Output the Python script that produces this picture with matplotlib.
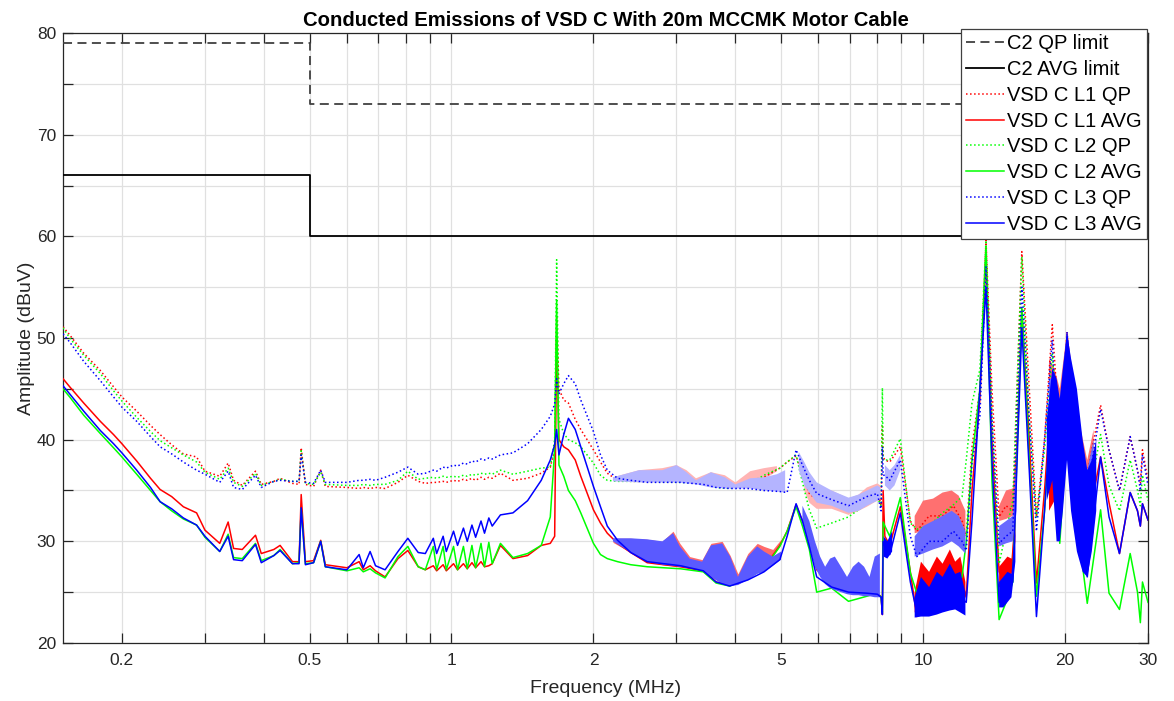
import numpy as np
import matplotlib
matplotlib.use("Agg")
import matplotlib.pyplot as plt
from matplotlib.ticker import FixedLocator, FixedFormatter, NullFormatter

nan = np.nan

# ---------------- data ----------------
LIMIT_F = [0.15, 0.5, 0.5, 30]
QP_LIMIT = [79, 79, 73, 73]
AVG_LIMIT = [66, 66, 60, 60]

FREQ = [
    0.15, 0.155, 0.166, 0.18, 0.192, 0.2, 0.215, 0.23, 0.241, 0.255,
    0.27, 0.288, 0.3, 0.3225, 0.336, 0.345, 0.36, 0.384, 0.395, 0.42,
    0.433, 0.46, 0.475, 0.48, 0.49, 0.51, 0.528, 0.54, 0.6, 0.637,
    0.65, 0.672, 0.69, 0.723, 0.77, 0.808, 0.85, 0.88, 0.915, 0.93,
    0.96, 0.975, 1.01, 1.03, 1.06, 1.08, 1.105, 1.125, 1.155, 1.175,
    1.2, 1.22, 1.27, 1.35, 1.45, 1.55, 1.62, 1.655, 1.671, 1.69,
    1.73, 1.77, 1.83, 1.88, 2.0, 2.07, 2.14, 2.25, 2.4, 2.6,
    3.06, 3.42, 3.64, 3.89, 4.25, 4.6, 4.97, 5.15, 5.38, 5.55,
    5.74, 5.95, 6.4, 6.95, 7.6, 8.0, 8.15, 8.2, 8.23, 8.3,
    8.5, 8.95, 9.4, 9.7, 10.3, 11.0, 11.6, 12.1, 12.35, 12.7,
    13.2, 13.6, 14.0, 14.5, 15.0, 15.5, 16.2, 16.8, 17.4, 18.1,
    18.8, 19.5, 20.2, 21.2, 22.3, 23.8, 24.8, 26.1, 27.5, 28.5,
    28.9, 29.2, 30,
]

L1_QP = [
    51.1, 50.3, 48.5, 46.8, 45.2, 44.2, 42.8, 41.4, 40.5, 39.5,
    38.6, 38.3, 36.9, 36.4, 37.7, 36.0, 35.5, 36.9, 35.6, 35.9,
    36.2, 35.7, 35.6, 39.2, 35.6, 35.4, 37.0, 35.4, 35.3, 35.2,
    35.3, 35.2, 35.3, 35.2, 35.8, 36.5, 35.9, 35.7, 35.8, 35.8,
    35.9, 35.8, 36.0, 35.9, 36.1, 36.0, 36.2, 36.0, 36.3, 36.1,
    36.3, 36.2, 36.7, 36.0, 36.2, 36.7, 37.3, 39.0, 52.0, 45.0,
    43.9, 43.6, 42.0, 41.0, 39.0, 37.8, 36.7, 36.0, 35.9, 35.9,
    35.9, 35.9, 35.5, 35.3, 35.6, 36.3, 37.2, 37.8, 38.4, 36.5,
    34.7, 34.1, 33.9, 33.1, 34.0, 35.0, 33.5, 41.3, 38.3, 38.0,
    37.8, 39.3, 32.0, 31.0, 32.5, 32.5, 33.5, 32.0, 30.5, 39.3,
    44.9, 59.6, 45.0, 32.4, 33.5, 33.0, 58.5, 45.0, 32.4, 40.0,
    51.3, 40.0, 50.6, 40.3, 36.7, 43.4, 39.0, 35.0, 40.3, 37.0,
    35.7, 39.0, 36.0,
]

L2_QP = [
    51.0, 50.0, 48.3, 46.5, 44.8, 43.8, 42.2, 40.8, 39.9, 39.2,
    38.5, 37.8, 36.8, 36.1, 37.2, 35.8, 35.4, 36.7, 35.5, 35.9,
    36.1, 35.9, 35.9, 38.9, 35.7, 35.6, 36.8, 35.6, 35.5, 35.5,
    35.6, 35.5, 35.6, 35.6, 36.0, 36.9, 36.1, 36.2, 36.3, 36.2,
    36.4, 36.3, 36.4, 36.3, 36.5, 36.4, 36.6, 36.5, 36.7, 36.6,
    36.7, 36.6, 37.0, 36.6, 36.9, 37.2, 37.3, 40.0, 57.7, 42.0,
    40.6, 40.0, 39.7, 39.3, 37.7, 36.5, 36.0, 35.9, 35.9, 35.9,
    35.8, 35.7, 35.3, 35.2, 35.6, 36.5, 37.2, 37.8, 38.5, 35.8,
    33.1, 31.3, 31.8, 32.4, 33.7, 34.3, 33.5, 45.1, 38.0, 38.0,
    38.0, 40.1, 31.8, 31.2, 31.5, 32.8, 33.6, 34.4, 38.0, 43.6,
    46.9, 59.6, 42.0, 27.8, 31.0, 34.0, 58.0, 42.0, 32.4, 39.0,
    48.5, 38.0, 46.4, 38.0, 33.5, 40.5, 35.5, 33.0, 38.0, 35.0,
    33.5, 36.5, 34.0,
]

L3_QP = [
    50.4, 49.6, 47.7, 45.8, 44.2, 43.2, 41.8, 40.3, 39.3, 38.6,
    37.8, 37.0, 36.6, 35.8, 36.9, 35.3, 35.1, 36.5, 35.3, 35.9,
    36.0, 35.9, 35.9, 38.5, 35.8, 35.7, 37.0, 35.8, 35.8, 36.0,
    36.0, 36.1, 36.0, 36.3, 36.8, 37.3, 36.6, 36.7, 37.0, 36.9,
    37.3, 37.2, 37.5, 37.4, 37.7, 37.6, 37.9, 37.8, 38.1, 38.0,
    38.2, 38.1, 38.5, 38.7, 39.6, 41.0, 42.3, 43.5, 46.0, 44.5,
    45.5, 46.3, 45.5, 43.9, 40.8, 38.5, 37.0, 36.2, 36.0, 35.8,
    35.8, 35.6, 35.3, 35.2, 35.2, 35.0, 34.9, 34.8, 39.0, 37.5,
    36.0, 34.7, 34.1, 33.5, 34.4, 34.7, 33.0, 39.3, 36.5, 36.5,
    36.0, 38.0, 30.5, 28.5, 30.0, 30.0, 31.0, 30.0, 29.1, 37.7,
    42.3, 57.0, 42.0, 29.8, 30.5, 31.0, 55.0, 42.0, 31.0, 40.0,
    49.8, 33.1, 50.6, 40.0, 35.0, 43.0, 39.0, 35.0, 40.3, 37.0,
    35.0, 38.5, 35.5,
]

L1_AVG = [
    46.0, 45.2, 43.6, 41.8, 40.5, 39.6, 37.9, 36.2, 35.1, 34.4,
    33.4, 32.8, 31.1, 29.8, 31.9, 29.3, 29.2, 30.6, 28.8, 29.2,
    29.6, 28.0, 28.0, 34.6, 28.0, 28.1, 30.1, 27.7, 27.4, 28.0,
    27.2, 27.6, 27.1, 26.5, 28.3, 29.1, 27.5, 27.2, 27.6, 27.1,
    27.7, 27.1, 27.8, 27.2, 27.8, 27.3, 27.9, 27.4, 28.0, 27.5,
    27.6, 27.8, 29.6, 28.3, 28.6, 29.6, 29.8, 30.5, 50.0, 40.0,
    39.3, 39.0, 38.0, 36.4, 33.1, 31.8, 30.8, 29.8, 28.9, 27.9,
    27.5, 27.1, 26.0, 25.7, 26.4, 27.4, 29.6, 31.0, 33.6, 32.0,
    30.5, 27.2, 26.0, 25.1, 25.1, 25.0, 24.5, 22.8, 35.0, 30.5,
    29.6, 33.4, 27.0, 22.6, 25.0, 26.0, 26.5, 26.0, 24.5, 35.0,
    44.0, 58.0, 40.0, 27.0, 26.0, 27.5, 52.8, 40.0, 25.9, 35.0,
    45.7, 35.0, 50.0, 38.0, 31.5, 38.3, 33.8, 28.8, 34.8, 33.0,
    31.5, 33.7, 32.1,
]

L2_AVG = [
    45.0, 44.2, 42.4, 40.6, 39.2, 38.3, 36.6, 35.0, 33.9, 33.0,
    32.2, 31.6, 30.4, 29.0, 30.7, 28.4, 28.3, 29.8, 28.1, 28.6,
    29.2, 27.8, 27.9, 33.2, 27.8, 27.9, 30.0, 27.5, 27.1, 27.4,
    27.0, 27.3, 26.9, 26.4, 28.5, 29.5, 27.5, 27.2, 29.5, 27.2,
    29.5, 27.2, 29.5, 27.2, 29.5, 27.3, 29.6, 27.4, 29.8, 27.5,
    29.9, 27.8, 29.8, 28.4, 28.8, 29.6, 32.4, 39.0, 53.7, 37.5,
    36.4, 35.0, 34.0, 32.8, 29.8, 28.7, 28.3, 28.0, 27.7, 27.5,
    27.3, 27.0, 25.9, 25.6, 26.4, 27.3, 29.5, 31.0, 33.4, 31.5,
    29.2, 25.0, 25.4, 24.1, 24.6, 24.9, 24.5, 23.0, 31.9, 31.5,
    30.5, 34.3, 26.9, 24.9, 24.0, 25.0, 25.5, 26.5, 30.0, 38.0,
    45.0, 59.0, 36.0, 22.3, 24.0, 26.0, 53.0, 38.0, 24.6, 33.0,
    44.6, 29.8, 41.0, 32.0, 23.9, 33.1, 24.9, 23.3, 28.8, 25.0,
    22.0, 26.0, 24.0,
]

L3_AVG = [
    45.3, 44.5, 42.8, 40.9, 39.6, 38.7, 37.0, 35.3, 33.9, 33.2,
    32.3, 31.6, 30.5, 29.0, 30.5, 28.2, 28.1, 29.7, 27.9, 28.6,
    29.1, 27.8, 27.8, 33.3, 27.7, 27.9, 30.0, 27.5, 27.2, 28.7,
    27.4, 29.0, 27.6, 27.2, 29.0, 30.3, 28.9, 28.8, 30.3, 28.8,
    30.5, 29.0, 31.0, 29.6, 31.3, 30.0, 31.6, 30.4, 32.0, 30.8,
    32.3, 31.5, 32.6, 32.8, 34.0, 36.0, 38.0, 39.5, 41.0, 38.5,
    40.5, 42.1, 41.0, 39.3, 35.4, 33.4, 31.5, 30.1, 28.9, 28.0,
    27.6, 27.1, 26.0, 25.6, 26.2, 27.0, 28.2, 30.5, 33.7, 32.0,
    29.5, 26.5, 25.5, 25.0, 24.9, 24.8, 24.5, 22.8, 30.0, 29.5,
    28.7, 32.8, 26.0, 23.0, 24.0, 24.5, 25.0, 24.3, 24.0, 32.0,
    45.0, 55.0, 38.0, 24.0, 25.0, 26.0, 51.0, 37.0, 22.6, 33.0,
    45.0, 32.1, 50.1, 38.0, 26.5, 38.3, 32.4, 28.8, 34.8, 33.0,
    31.5, 33.7, 32.1,
]

# Envelopes of the dense harmonic ripple (NaN separates regions).
# "COMB": sparse teeth (lighter look); "DENSE": packed ripple (solid look).
L1_QP_COMB_F = [2.2, 2.5, 2.8, 3.0, 3.15, 3.3, 3.55, 3.8, 4.0, 4.3, 4.6, 4.9, nan,
                5.6, 5.74, 5.95, 6.4, 6.95, 7.3, 7.6, 8.0, 8.12]
L1_QP_COMB_LO = [36.0, 35.9, 35.9, 35.9, 35.9, 35.8, 35.5, 35.3, 35.3, 35.5, 36.1, 36.9, nan,
                 35.0, 33.8, 33.2, 33.2, 32.6, 33.0, 33.4, 34.0, 34.0]
L1_QP_COMB_HI = [36.3, 37.0, 37.2, 37.5, 37.0, 36.2, 36.8, 36.5, 35.8, 36.9, 37.2, 37.4, nan,
                 37.0, 35.8, 35.0, 35.0, 34.2, 34.6, 35.3, 35.7, 35.5]
L1_QP_DENSE_F = [9.6, 10.0, 10.5, 11.0, 11.5, 11.9, 12.3, nan,
                 14.5, 15.0, 15.5, 15.8, nan,
                 18.5, 19.0, 19.5, 20.2, 21.0, 21.6, 22.3, 23.0]
L1_QP_DENSE_LO = [30.8, 31.0, 31.5, 31.8, 32.0, 31.5, 30.5, nan,
                  32.0, 32.2, 32.5, 35.0, nan,
                  38, 40, 36, 44, 38, 36, 35, 38]
L1_QP_DENSE_HI = [32.5, 34.0, 34.2, 34.8, 35.0, 34.5, 33.0, nan,
                  33.5, 35.0, 35.2, 40.0, nan,
                  48, 47, 45, 50.6, 45, 41, 38, 41]

L3_QP_COMB_F = [2.2, 2.5, 2.8, 3.0, 3.15, 3.3, 3.55, 3.8, 4.0, 4.3, 4.6, 4.9, 5.1, nan,
                5.45, 5.6, 5.74, 5.95, 6.4, 6.95, 7.3, 7.6, 8.0, 8.12, nan,
                8.3, 8.5, 8.7, 8.95]
L3_QP_COMB_LO = [35.9, 35.8, 35.8, 35.8, 35.7, 35.6, 35.3, 35.2, 35.2, 35.2, 35.0, 34.9, 34.8, nan,
                 37.0, 35.5, 34.8, 33.8, 33.5, 32.8, 33.0, 33.5, 34.0, 34.2, nan,
                 35.5, 35.0, 35.5, 37.0]
L3_QP_COMB_HI = [36.3, 37.0, 37.0, 37.5, 36.8, 36.0, 36.8, 36.3, 35.6, 36.2, 36.3, 36.6, 37.0, nan,
                 38.8, 37.8, 36.8, 35.8, 35.0, 34.3, 34.6, 35.0, 35.5, 35.3, nan,
                 37.5, 37.0, 37.5, 38.5]
L3_QP_DENSE_F = [9.6, 10.0, 10.5, 11.0, 11.5, 11.9, 12.3, nan,
                 14.5, 15.0, 15.5, 15.8, nan,
                 18.5, 19.0, 19.5, 20.2, 21.0, 21.6, 22.3, 23.0]
L3_QP_DENSE_LO = [28.5, 28.8, 29.2, 29.5, 30.0, 29.5, 28.8, nan,
                  29.5, 29.8, 30.0, 33.0, nan,
                  36, 37, 33, 40, 34, 32, 33, 36]
L3_QP_DENSE_HI = [30.5, 31.5, 32.0, 32.5, 33.0, 32.5, 31.0, nan,
                  31.5, 32.0, 32.5, 38.0, nan,
                  46, 46, 44, 50.6, 44, 40, 37, 40]

L1_AVG_COMB_F = [2.2, 2.4, 2.6, 2.8, 2.95, 3.05, 3.2, 3.4, 3.55, 3.75, 3.9, 4.05, 4.25, 4.45, 4.6, 4.8, 5.0]
L1_AVG_COMB_LO = [29.9, 28.9, 28.0, 27.7, 27.6, 27.5, 27.4, 27.1, 26.5, 25.9, 25.7, 25.8, 26.4, 27.0, 27.4, 28.5, 29.8]
L1_AVG_COMB_HI = [30.3, 30.3, 30.2, 30.0, 31.0, 29.8, 28.5, 28.2, 29.8, 30.0, 28.6, 26.8, 28.8, 29.8, 29.5, 29.2, 30.2]
L1_AVG_DENSE_F = [9.6, 9.9, 10.3, 10.7, 11.0, 11.4, 11.7, 12.0, 12.3, nan,
                  14.5, 14.8, 15.1, 15.4, 15.7, nan,
                  18.5, 19.0, 19.5, 20.2, 21.0, 21.6, 22.3, 23.0]
L1_AVG_DENSE_LO = [23.0, 23.5, 24.0, 24.5, 25.0, 25.0, 25.5, 25.0, 24.5, nan,
                   25.5, 25.5, 26.0, 26.5, 30.0, nan,
                   33, 34, 30, 41, 31, 29, 27, 31]
L1_AVG_DENSE_HI = [25.0, 28.0, 27.0, 28.5, 27.8, 29.2, 28.0, 28.5, 26.0, nan,
                   27.5, 28.0, 28.5, 28.3, 33.0, nan,
                   44, 42, 40, 50, 42, 37, 33, 37]

L3_AVG_COMB_F = [2.2, 2.4, 2.6, 2.8, 2.95, 3.05, 3.2, 3.4, 3.55, 3.75, 3.9, 4.05, 4.25, 4.45, 4.6, 4.8, 5.0, nan,
                 5.55, 5.74, 5.9, 6.05, 6.2, 6.35, 6.5, 6.7, 6.9, 7.1, 7.3, 7.5, 7.7, 7.9, 8.1]
L3_AVG_COMB_LO = [30.0, 28.9, 28.0, 27.7, 27.6, 27.5, 27.4, 27.1, 26.5, 25.8, 25.6, 25.7, 26.2, 26.8, 27.0, 27.6, 28.2, nan,
                  32.0, 29.5, 27.5, 26.5, 25.8, 25.4, 25.2, 25.0, 24.8, 24.7, 24.7, 24.6, 24.6, 24.5, 24.5]
L3_AVG_COMB_HI = [30.3, 30.3, 30.2, 30.0, 30.8, 29.5, 28.3, 28.0, 29.6, 29.8, 28.5, 26.5, 28.5, 29.5, 29.0, 28.5, 29.0, nan,
                  33.5, 32.0, 30.0, 28.5, 27.5, 28.3, 28.5, 27.5, 26.5, 27.5, 28.0, 27.5, 26.5, 28.5, 28.8]
L3_AVG_DENSE_F = [8.25, 8.4, 8.6, nan,
                  9.6, 9.9, 10.3, 10.7, 11.0, 11.4, 11.7, 12.0, 12.3, nan,
                  14.5, 14.8, 15.1, 15.4, 15.7, nan,
                  18.3, 18.8, 19.2, 19.5, 19.8, 20.2, 20.6, 21.2, 21.8, 22.3, 22.8, 23.3]
L3_AVG_DENSE_LO = [28.5, 28.3, 29.0, nan,
                   22.5, 22.6, 22.6, 22.8, 23.0, 23.2, 23.3, 23.0, 22.7, nan,
                   23.5, 23.5, 24.0, 24.5, 28.0, nan,
                   34, 36, 30, 30, 33, 38, 33, 29, 27, 26.5, 29, 33]
L3_AVG_DENSE_HI = [30.5, 30.0, 31.0, nan,
                   24.5, 26.5, 25.5, 27.0, 26.5, 27.8, 26.8, 27.0, 25.0, nan,
                   26.0, 26.5, 27.0, 26.8, 31.0, nan,
                   42, 47, 46, 44, 47, 50.5, 48, 45, 40, 37, 38, 40]

X_MAJOR = [0.2, 0.5, 1, 2, 5, 10, 20, 30]
X_LABELS = ['0.2', '0.5', '1', '2', '5', '10', '20', '30']
X_MINOR = [0.3, 0.4, 0.6, 0.7, 0.8, 0.9, 3, 4, 6, 7, 8, 9]
Y_MAJOR = [20, 30, 40, 50, 60, 70, 80]
Y_MINOR = [25, 35, 45, 55, 65, 75]

TITLE = 'Conducted Emissions of VSD C With 20m MCCMK Motor Cable'

# ---------------- plot ----------------
plt.rcParams['font.family'] = ['Liberation Sans', 'DejaVu Sans']
AXC = '#262626'

W, H = 1174, 701
fig = plt.figure(figsize=(W / 100, H / 100), dpi=100)
L, R, T, B = 63, 1148, 33, 643
ax = fig.add_axes([L / W, 1 - B / H, (R - L) / W, (B - T) / H])
ax.set_xscale('log')

RED, GREEN, BLUE = '#ff0000', '#00ff00', '#0000ff'

ax.plot(LIMIT_F, QP_LIMIT, color='#404040', ls=(0, (5, 3)), lw=1.3, label='C2 QP limit', zorder=3)
ax.plot(LIMIT_F, AVG_LIMIT, color='black', lw=1.3, label='C2 AVG limit', zorder=3)

# (values, colour, style, label, [(band arrays, fill colour), ...])
series = [
    (L1_QP, RED, ':', 'VSD C L1 QP',
     [((L1_QP_COMB_F, L1_QP_COMB_LO, L1_QP_COMB_HI), '#ffb4b4'),
      ((L1_QP_DENSE_F, L1_QP_DENSE_LO, L1_QP_DENSE_HI), '#ff7070')]),
    (L1_AVG, RED, '-', 'VSD C L1 AVG',
     [((L1_AVG_COMB_F, L1_AVG_COMB_LO, L1_AVG_COMB_HI), '#ff6a6a'),
      ((L1_AVG_DENSE_F, L1_AVG_DENSE_LO, L1_AVG_DENSE_HI), '#ff0000')]),
    (L2_QP, GREEN, ':', 'VSD C L2 QP', []),
    (L2_AVG, GREEN, '-', 'VSD C L2 AVG', []),
    (L3_QP, BLUE, ':', 'VSD C L3 QP',
     [((L3_QP_COMB_F, L3_QP_COMB_LO, L3_QP_COMB_HI), '#b4b4ff'),
      ((L3_QP_DENSE_F, L3_QP_DENSE_LO, L3_QP_DENSE_HI), '#6a6aff')]),
    (L3_AVG, BLUE, '-', 'VSD C L3 AVG',
     [((L3_AVG_COMB_F, L3_AVG_COMB_LO, L3_AVG_COMB_HI), '#5a5aff'),
      ((L3_AVG_DENSE_F, L3_AVG_DENSE_LO, L3_AVG_DENSE_HI), '#0000ff')]),
]
z = 4
for vals, col, ls, lab, bands in series:
    for (bf, blo, bhi), fc in bands:
        ax.fill_between(np.array(bf, float), np.array(blo, float), np.array(bhi, float),
                        color=fc, lw=0, zorder=z)
    ax.plot(FREQ, vals, color=col, ls=ls, lw=1.1, label=lab, zorder=z + 0.5)
    z += 1

ax.set_xlim(0.15, 30)
ax.set_ylim(20, 80)
ax.xaxis.set_major_locator(FixedLocator(X_MAJOR))
ax.xaxis.set_major_formatter(FixedFormatter(X_LABELS))
ax.xaxis.set_minor_locator(FixedLocator(X_MINOR))
ax.xaxis.set_minor_formatter(NullFormatter())
ax.yaxis.set_major_locator(FixedLocator(Y_MAJOR))
ax.yaxis.set_minor_locator(FixedLocator(Y_MINOR))

ax.grid(True, which='both', color='#e0e0e0', lw=0.9, zorder=0)
ax.set_axisbelow(True)
ax.tick_params(which='both', direction='in', top=True, right=True, length=7.5,
               width=0.9, color=AXC, labelcolor=AXC, labelsize=12.5)
ax.tick_params(axis='x', pad=7)
ax.tick_params(axis='y', pad=5)
for s in ax.spines.values():
    s.set_color(AXC)
    s.set_linewidth(0.9)

ax.set_xlabel('Frequency (MHz)', fontsize=14, color=AXC, labelpad=9)
ax.set_ylabel('Amplitude (dBuV)', fontsize=14, color=AXC, labelpad=1)
ax.set_title(TITLE, fontsize=14.6, fontweight='bold', color='black', pad=5)

leg = ax.legend(loc='upper right', bbox_to_anchor=(1147 / W, 1 - 29 / H),
                bbox_transform=fig.transFigure, borderaxespad=0,
                fontsize=14.5, frameon=True, fancybox=False, framealpha=1,
                edgecolor='#404040', handlelength=1.9, labelspacing=0.34,
                borderpad=0.25, handletextpad=0.15)
leg.get_frame().set_linewidth(0.9)
leg.set_zorder(20)

fig.savefig('out.png', dpi=100)
